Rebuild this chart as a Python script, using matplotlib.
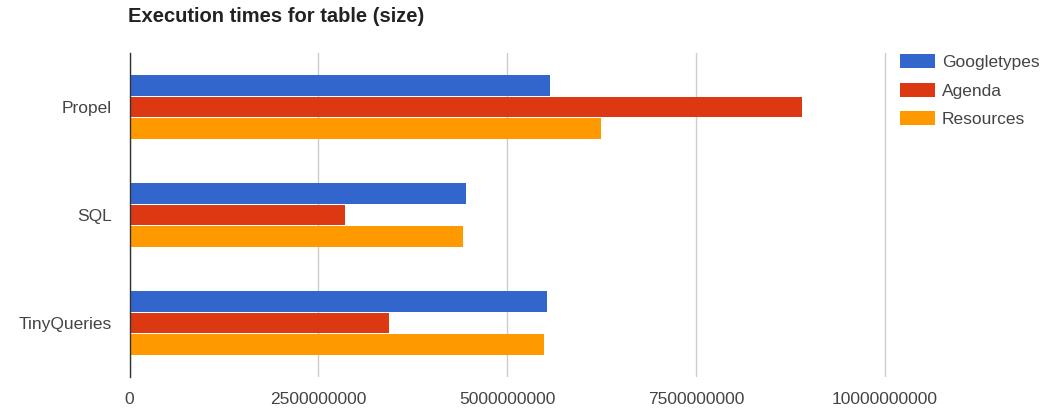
import matplotlib
matplotlib.use("Agg")
import matplotlib.pyplot as plt
import numpy as np

categories = ["Propel", "SQL", "TinyQueries"]
series_names = ["Googletypes", "Agenda", "Resources"]
googletypes = [5.56e9, 4.46e9, 5.53e9]
agenda = [8.90e9, 2.85e9, 3.44e9]
resources = [6.24e9, 4.41e9, 5.48e9]
xticks = [0, 2500000000, 5000000000, 7500000000, 10000000000]
xtick_labels = ["0", "2500000000", "5000000000", "7500000000", "10000000000"]

colors = ["#3366CC", "#DC3912", "#FF9900"]

plt.rcParams['font.family'] = ['Liberation Sans', 'DejaVu Sans']

W, H = 1054, 408
x0, x1 = 129.5, 885.0          # pixel positions of 0 and 1e10
right = 895.0
fig = plt.figure(figsize=(W / 100, H / 100), dpi=100)
ax = fig.add_axes([x0 / W, 1 - 377 / H, (right - x0) / W, (377 - 53) / H])

y = np.arange(len(categories))
bh = 0.19
offs = [-0.197, 0.0, 0.197]
for vals, name, c, o in zip([googletypes, agenda, resources], series_names, colors, offs):
    ax.barh(y + o, vals, height=bh, color=c, label=name, zorder=3)

ax.set_xlim(0, 10000000000 * (right - x0) / (x1 - x0))
ax.set_ylim(2.5, -0.5)
ax.set_xticks(xticks)
ax.set_xticklabels(xtick_labels)
ax.set_yticks(y)
ax.set_yticklabels(categories)
ax.tick_params(axis='both', length=0, labelsize=12.5, labelcolor="#444444")
ax.tick_params(axis='x', pad=10.5)
ax.tick_params(axis='y', pad=13)
ax.grid(axis='x', color="#CCCCCC", linewidth=1, zorder=0)
for s in ["top", "right", "bottom"]:
    ax.spines[s].set_visible(False)
ax.spines["left"].set_color("#333333")
ax.spines["left"].set_linewidth(1)
ax.spines["left"].set_zorder(4)

fig.text(128 / W, 1 - 17 / H, "Execution times for table (size)", fontsize=14.5,
         fontweight="bold", color="#222222", ha="left", va="center")

leg = fig.legend(loc="upper left", bbox_to_anchor=(900 / W, 1 - 54 / H), frameon=False,
                 fontsize=12.5, handlelength=2.0, handleheight=0.86, labelspacing=0.73,
                 handletextpad=0.4, borderaxespad=0, borderpad=0)
for t in leg.get_texts():
    t.set_color("#444444")

fig.savefig("out.png", dpi=100)
